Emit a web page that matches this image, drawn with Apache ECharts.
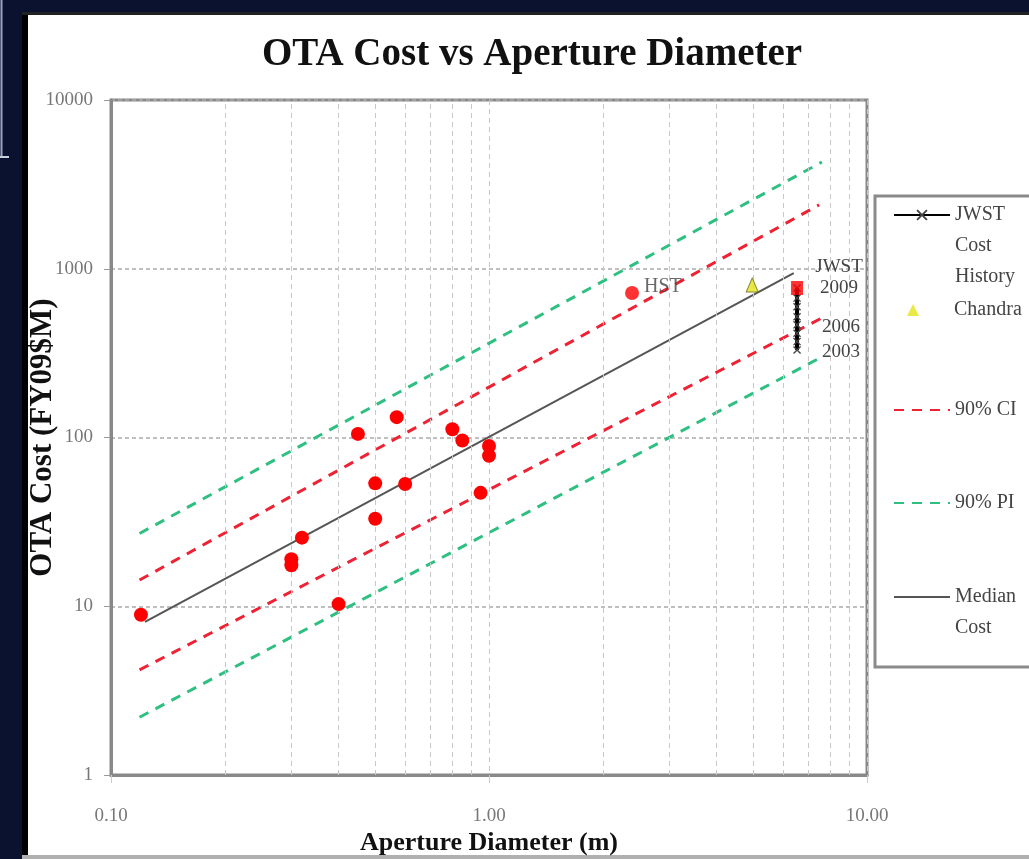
<!DOCTYPE html>
<html><head><meta charset="utf-8">
<script src="https://cdn.jsdelivr.net/npm/echarts@6/dist/echarts.min.js"></script>
<style>html,body{margin:0;padding:0;background:#0b1230}#c{width:1029px;height:859px}</style>
</head><body><div id="c"></div>
<script>
const serif = '"Liberation Serif","Times New Roman",serif';

// Axis ranges / ticks
const xRange = [0.1, 10];
const yRange = [1, 10000];
const minorGridX = [0.2, 0.3, 0.4, 0.5, 0.6, 0.7, 0.8, 0.9, 2, 3, 4, 5, 6, 7, 8, 9];

// Historical OTA data points (red circles)
const pointDiameter = [0.12, 0.30, 0.30, 0.32, 0.40, 0.45, 0.50, 0.50, 0.57, 0.60, 0.80, 0.85, 0.95, 1.00, 1.00];
const pointCost     = [8.9, 19, 17.5, 25.5, 10.3, 105, 53.5, 33, 132, 53, 112, 96, 47, 89, 78];

// Named points
const hstPoint = [2.39, 718];
const chandraPoint = [4.97, 801];

// JWST cost history
const jwstDiameter = 6.53;
const jwstHistoryCost = [769, 670, 595, 520, 465, 415, 370, 330];
const jwstYears = ['2009', '', '', '', '2006', '', '', '2003'];

// Regression lines (endpoints)
const medianLine = [[0.123, 8.07], [6.4, 943]];
const ciUpper = [[0.119, 14.3], [7.47, 2390]];
const ciLower = [[0.119, 4.2], [7.6, 511]];
const piUpper = [[0.119, 27], [7.6, 4290]];
const piLower = [[0.119, 2.2], [7.5, 296]];

const xSymbol = 'path://M0,1.2L1.2,0L5,3.8L8.8,0L10,1.2L6.2,5L10,8.8L8.8,10L5,6.2L1.2,10L0,8.8L3.8,5Z';
// legend triangle drawn inside a 56x12 box (tiny corner anchors keep the box size)
const triIcon = 'path://M0,0L0.01,0L0,0.01Z M56,12L55.99,12L56,11.99Z M20,0L26,12L14,12Z';

const chart = echarts.init(document.getElementById('c'), null, {renderer: 'canvas'});

const legendText = {fontFamily: serif, fontSize: 20, color: '#444', lineHeight: 31};
const legendBase = {
  orient: 'vertical', left: 893, padding: 0, itemWidth: 56, itemHeight: 14, itemGap: 0,
  selectedMode: false, textStyle: legendText
};

const dashedRed = {color: '#ee2233', width: 3, type: [10, 8]};
const dashedGreen = {color: '#2fbf80', width: 3, type: [10, 8]};

const option = {
  backgroundColor: '#0b1230',
  animation: false,
  graphic: [
    {type: 'rect', z: -20, silent: true, shape: {x: 22, y: 12, width: 1020, height: 860}, style: {fill: '#ffffff'}},
    {type: 'rect', z: -19, silent: true, shape: {x: 22, y: 12, width: 6, height: 860}, style: {fill: '#000000'}},
    {type: 'rect', z: -19, silent: true, shape: {x: 22, y: 12, width: 1010, height: 3}, style: {fill: '#222222'}},
    {type: 'rect', z: -19, silent: true, shape: {x: 22, y: 855, width: 1010, height: 4}, style: {fill: '#b0b0b0'}},
    {type: 'line', z: -19, silent: true, shape: {x1: 1.5, y1: 0, x2: 1.5, y2: 157}, style: {stroke: '#9aa6c0', lineWidth: 2}},
    {type: 'line', z: -19, silent: true, shape: {x1: 0, y1: 157, x2: 9, y2: 157}, style: {stroke: '#c8d0e0', lineWidth: 2}},
    {type: 'rect', z: -5, silent: true, shape: {x: 875, y: 196, width: 170, height: 471}, style: {fill: '#ffffff', stroke: '#8a8a8a', lineWidth: 3}}
  ],
  title: {
    text: 'OTA Cost vs Aperture Diameter',
    left: 257, top: 30,
    textStyle: {fontFamily: serif, fontSize: 39, fontWeight: 'bold', color: '#111'}
  },
  legend: [
    Object.assign({}, legendBase, {top: 137.5, data: ['JWST Cost History'], formatter: () => ' \n \nJWST\nCost\nHistory'}),
    Object.assign({}, legendBase, {top: 294.5, itemHeight: 12, itemStyle: {borderWidth: 0},
      data: [{name: 'Chandra', icon: triIcon}]}),
    Object.assign({}, legendBase, {top: 394.5, itemStyle: {opacity: 0}, data: ['90% CI']}),
    Object.assign({}, legendBase, {top: 487.5, itemStyle: {opacity: 0}, data: ['90% PI']}),
    Object.assign({}, legendBase, {top: 550.5, itemStyle: {opacity: 0}, data: ['Median Cost'], formatter: () => ' \nMedian\nCost'})
  ],
  grid: {left: 111, right: 162, top: 100, bottom: 84, outerBoundsMode: 'none', containLabel: false,
    show: true, borderColor: '#888', borderWidth: 3, backgroundColor: 'transparent'},
  xAxis: {
    type: 'log', logBase: 10, min: xRange[0], max: xRange[1],
    name: 'Aperture Diameter (m)', nameLocation: 'middle', nameGap: 55, nameMoveOverlap: false,
    nameTextStyle: {fontFamily: serif, fontSize: 26, fontWeight: 'bold', color: '#111'},
    axisLine: {show: true, lineStyle: {color: '#888', width: 3}},
    axisTick: {show: true, length: 8, lineStyle: {color: '#ccc'}},
    axisLabel: {margin: 32, fontFamily: serif, fontSize: 19, color: '#777', formatter: v => Number(v).toFixed(2)},
    splitLine: {show: true, lineStyle: {color: '#c8c8c8', type: [5, 4], width: 1}}
  },
  yAxis: {
    type: 'log', logBase: 10, min: yRange[0], max: yRange[1],
    name: 'OTA Cost (FY09$M)', nameLocation: 'middle', nameGap: 53, nameMoveOverlap: false,
    nameTextStyle: {fontFamily: serif, fontSize: 31, fontWeight: 'bold', color: '#111'},
    axisLine: {show: true, lineStyle: {color: '#888', width: 3}},
    axisTick: {show: true, length: 7, lineStyle: {color: '#999'}},
    axisLabel: {margin: 18, fontFamily: serif, fontSize: 19, color: '#777', formatter: v => String(Math.round(v))},
    splitLine: {show: true, lineStyle: {color: '#aaa', type: [4, 3], width: 1.5}}
  },
  series: [
    {
      name: 'Median Cost', type: 'line', symbol: 'none', data: medianLine, z: 3,
      lineStyle: {color: '#555', width: 2}, itemStyle: {color: '#555'},
      markLine: {
        silent: true, symbol: 'none', label: {show: false}, animation: false,
        lineStyle: {color: '#c8c8c8', type: [5, 4], width: 1},
        data: minorGridX.map(v => ({xAxis: v}))
      }
    },
    {name: '90% CI', type: 'line', symbol: 'none', data: ciUpper, lineStyle: dashedRed, itemStyle: {color: '#ee2233'}, z: 3},
    {name: '90% CI', type: 'line', symbol: 'none', data: ciLower, lineStyle: dashedRed, itemStyle: {color: '#ee2233'}, z: 3},
    {name: '90% PI', type: 'line', symbol: 'none', data: piUpper, lineStyle: dashedGreen, itemStyle: {color: '#2fbf80'}, z: 3},
    {name: '90% PI', type: 'line', symbol: 'none', data: piLower, lineStyle: dashedGreen, itemStyle: {color: '#2fbf80'}, z: 3},
    {
      name: 'Data', type: 'scatter', symbol: 'circle', symbolSize: 14, z: 5,
      itemStyle: {color: '#ff0000', opacity: 1},
      data: pointDiameter.map((d, i) => [d, pointCost[i]])
    },
    {
      name: 'HST', type: 'scatter', symbol: 'circle', symbolSize: 14, z: 5,
      itemStyle: {color: '#ff0000'},
      label: {show: true, position: 'inside', align: 'left', offset: [12, -6], formatter: 'HST',
        fontFamily: serif, fontSize: 20, color: '#444'},
      data: [hstPoint]
    },
    {
      name: 'Chandra', type: 'scatter', symbol: 'triangle', symbolSize: [12, 14], z: 5,
      itemStyle: {color: '#e3e31a', borderColor: '#6d6d10', borderWidth: 1},
      data: [chandraPoint]
    },
    {
      name: 'JWST Cost History', type: 'line', symbol: xSymbol, symbolSize: 8, z: 6,
      lineStyle: {color: '#000', width: 4},
      itemStyle: {color: '#444'},
      label: {show: false},
      data: jwstHistoryCost.map((c, i) => ({
        value: [jwstDiameter, c],
        label: jwstYears[i] ? {
          show: true, position: 'inside', align: 'center',
          offset: i === 0 ? [42, -10] : [44, 2],
          formatter: i === 0 ? 'JWST\n' + jwstYears[i] : jwstYears[i],
          fontFamily: serif, fontSize: 19, color: '#444', lineHeight: 21
        } : {show: false}
      }))
    },
    {
      name: 'JWST 2009', type: 'scatter', symbol: 'rect', symbolSize: [12, 14], z: 7,
      itemStyle: {color: '#ff0000'},
      data: [[jwstDiameter, jwstHistoryCost[0]]]
    }
  ]
};
chart.setOption(option);
</script>
</body></html>
